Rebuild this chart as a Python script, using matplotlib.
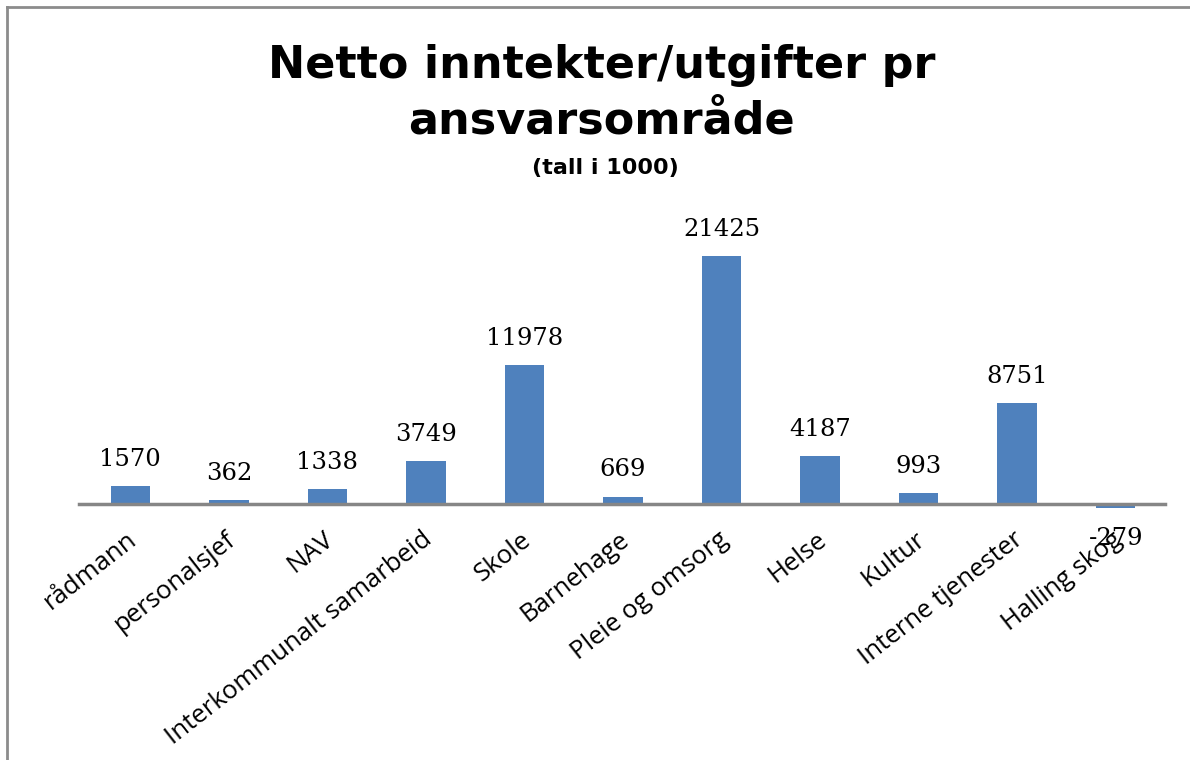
import matplotlib.pyplot as plt
from matplotlib.lines import Line2D
from matplotlib.transforms import ScaledTranslation

categories = ["rådmann", "personalsjef", "NAV", "Interkommunalt samarbeid", "Skole",
              "Barnehage", "Pleie og omsorg", "Helse", "Kultur", "Interne tjenester",
              "Halling skog"]
values = [1570, 362, 1338, 3749, 11978, 669, 21425, 4187, 993, 8751, -279]

title_lines = ["Netto inntekter/utgifter pr", "ansvarsområde"]
subtitle = "(tall i 1000)"

bar_color = "#4F81BD"

fig = plt.figure(figsize=(11.9, 7.6), dpi=100)
# plot area: baseline at ~504 px from top, x from 81 to 1165 px
ax = fig.add_axes([81 / 1190, 244 / 760, 1084 / 1190, 290 / 760])

x = list(range(len(categories)))
ax.bar(x, values, width=0.4, color=bar_color, zorder=2)
ax.set_xlim(-0.5, len(categories) - 0.5)
ax.set_ylim(-1000, 24000)

for i, v in enumerate(values):
    if v >= 0:
        ax.annotate(str(v), (i, v), xytext=(0, 11), textcoords="offset points",
                    ha="center", va="bottom", fontsize=17.5, family="DejaVu Serif")
    else:
        ax.annotate(str(v), (i, v), xytext=(0, -14), textcoords="offset points",
                    ha="center", va="top", fontsize=17.5, family="DejaVu Serif")

# category axis line, a bit longer on the left like the original
ax.plot([-0.52, len(categories) - 0.5], [0, 0], color="#868686", lw=2.5,
        zorder=3, clip_on=False)
for s in ax.spines.values():
    s.set_visible(False)
ax.set_yticks([])
ax.set_xticks(x)
ax.set_xticklabels(categories, rotation=38, ha="right", rotation_mode="anchor",
                   fontsize=18.5, family="Open Sans")
ax.tick_params(axis="x", length=0, pad=8)
off = ScaledTranslation(-4 / 100, 0, fig.dpi_scale_trans)
for lbl in ax.get_xticklabels():
    lbl.set_transform(lbl.get_transform() + off)

# title: two lines placed on their baselines (78 px and 133 px from the top)
fig.text(0.5055, 1 - 78 / 760, title_lines[0], ha="center", va="baseline",
         fontsize=32, fontweight="bold", family="DejaVu Sans")
fig.text(0.5055, 1 - 133 / 760, title_lines[1], ha="center", va="baseline",
         fontsize=32, fontweight="bold", family="DejaVu Sans")
fig.text(0.509, 1 - 168 / 760, subtitle, ha="center", va="center", fontsize=16,
         fontweight="bold", family="DejaVu Sans")

# chart frame (left and top edges visible)
fig.add_artist(Line2D([7 / 1190, 7 / 1190], [0, 1 - 7 / 760], color="#8c8c8c", lw=2,
                      transform=fig.transFigure))
fig.add_artist(Line2D([7 / 1190, 1], [1 - 7 / 760, 1 - 7 / 760], color="#8c8c8c", lw=2,
                      transform=fig.transFigure))

fig.savefig("out.png", dpi=100)
